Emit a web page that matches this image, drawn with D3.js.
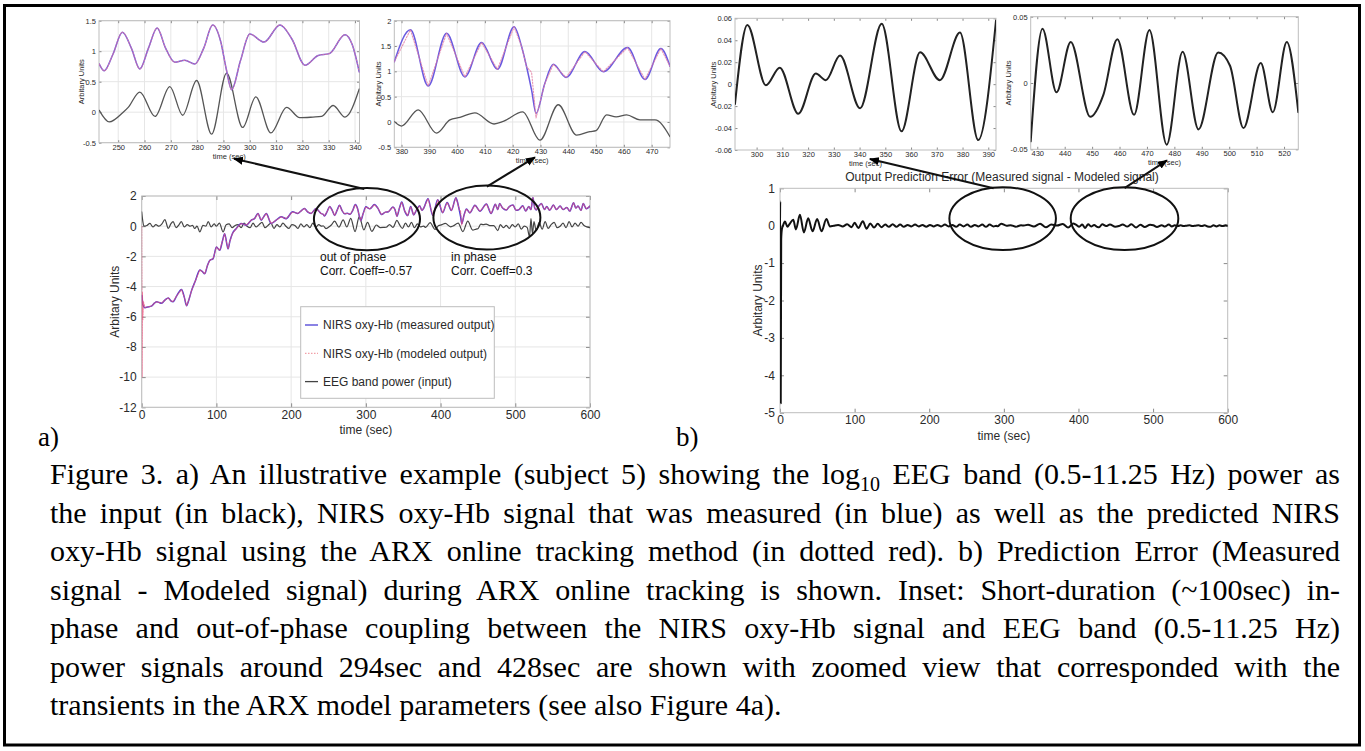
<!DOCTYPE html>
<html>
<head>
<meta charset="utf-8">
<script src="https://cdn.jsdelivr.net/npm/d3@7"></script>
<style>
  body { margin: 0; background: #fff; }
  .cap { font-family: "Liberation Serif", "Times New Roman", serif; fill: #000; }
</style>
</head>
<body>
<svg id="fig" width="1365" height="751"></svg>
<script>
// ---- data ----
// inset 1 (zoom around 294 sec)
const inset1Time = [242.8, 244.7, 248, 251.6, 255, 258.2, 261.5, 264.8, 268, 271.5, 275.3, 279.1, 282.5, 285.9, 289, 291, 293.1, 296.5, 300, 305.4, 311.5, 316, 321, 326, 330.2, 336.2, 339, 341.6];
const inset1Nirs = [0.79, 0.68, 0.95, 1.31, 1.05, 0.71, 1.05, 1.38, 1.05, 0.82, 0.85, 0.79, 1.05, 1.43, 1.15, 0.72, 0.37, 0.85, 1.28, 1.15, 1.43, 1.2, 0.77, 0.93, 0.96, 1.27, 1.1, 0.66];
const inset1EegTime = [242.8, 246.6, 251.9, 253.8, 258.2, 264, 269.6, 274.5, 279.8, 285.5, 291.2, 297.3, 302.3, 308, 314, 319, 324, 327.3, 331.7, 336.2, 341.6];
const inset1Eeg = [0.03, -0.16, 0.0, 0.08, 0.33, -0.07, 0.42, -0.05, 0.52, -0.36, 0.64, -0.25, 0.25, -0.34, 0.08, -0.09, -0.08, -0.07, 0.11, -0.08, 0.38];

// inset 2 (zoom around 428 sec)
const inset2Time = [377.4, 383.2, 389.6, 396.2, 402.8, 408.8, 414.5, 420.5, 423.2, 425, 426.8, 428.4, 431.5, 434.6, 439.2, 446, 452.6, 461.3, 467.6, 473.3, 476.6];
const inset2Nirs = [1.19, 1.82, 0.71, 1.75, 0.89, 1.57, 1.04, 1.88, 1.49, 1.09, 0.63, 0.17, 0.75, 1.14, 0.88, 1.39, 0.99, 1.47, 0.84, 1.45, 1.1];
const inset2Model = [1.19, 1.82, 0.71, 1.75, 0.89, 1.57, 1.04, 1.88, 1.49, 1.09, 0.98, 0.08, 0.75, 1.14, 0.88, 1.39, 0.99, 1.47, 0.84, 1.45, 1.1];
const inset2EegTime = [377.4, 380, 386, 392.6, 397.4, 401, 406.4, 413.3, 416.6, 423.6, 429.8, 436.4, 443, 447.8, 450, 453.8, 457.2, 461, 465.8, 471.2, 476.6];
const inset2Eeg = [0.01, -0.08, 0.24, -0.22, 0.04, 0.09, 0.18, -0.04, 0.01, 0.2, -0.36, 0.34, -0.26, -0.19, -0.17, 0.14, 0.1, 0.14, 0.04, 0.04, -0.29];

// inset 3 / 4 (prediction error)
const inset3Time = [291.6, 296.4, 303.6, 309, 316.2, 323, 326.9, 332.4, 340.2, 348.6, 356.3, 363.5, 371.2, 379, 386.1, 393];
const inset3Err = [-0.018, 0.054, -0.001, 0.015, -0.027, 0.0097, 0.0036, 0.026, -0.022, 0.055, -0.043, 0.029, 0.0036, 0.047, -0.051, 0.058];
const inset4Time = [427.6, 431.9, 437, 442.2, 449.3, 454.1, 459.2, 465.3, 470.9, 477.2, 483, 488.8, 496, 500.3, 505.2, 511.5, 515.9, 521, 525.2];
const inset4Err = [-0.044, 0.041, -0.007, 0.031, -0.0255, -0.009, 0.033, -0.024, 0.040, -0.0465, 0.0235, -0.035, 0.023, 0.013, -0.034, 0.015, -0.022, 0.031, -0.022];

// main a) pieces outside the zoomed windows
const earlyTime = [0.5, 1.5, 4.4, 8, 13, 17, 20, 23, 26.7, 31, 35.6, 39, 42, 47, 53.3, 57, 60, 63, 66.7, 72, 77.8, 81, 84.4, 88, 91, 95.6, 100, 104.4, 108, 111, 115.6, 118, 121.3, 126.7, 133, 140, 146.7, 151, 155.6, 160, 163, 166.7, 173.3, 180, 186.7, 193.3, 202, 208.9, 213, 217.8, 222, 226.7, 233.3, 237, 240];
const earlyNirs = [-4.6, -5.2, -5.4, -5.35, -5.3, -5.1, -5.0, -5.05, -5.1, -4.9, -4.75, -4.95, -5.0, -4.6, -4.2, -4.7, -5.27, -4.9, -4.27, -3.6, -2.9, -3.0, -3.15, -2.6, -2.27, -2.15, -1.38, -1.6, -1.0, -0.5, -1.5, -1.0, -0.5, -0.15, 0.18, 0.07, 0.4, 0.5, 0.84, 0.4, 0.6, 0.84, 0.18, 0.4, 0.62, 0.5, 0.95, 0.84, 1.0, 1.18, 0.95, 0.84, 1.18, 1.0, 0.84];
const modelStartTime = [0, 0.5, 1.0, 1.5, 2.2];
const modelStart = [0.0, -10, -4.4, -6.2, -5.0];
const midTime = [345, 348, 352, 356, 360, 364, 368, 372, 375];
const midNirs = [1.2, 1.6, 1.0, 0.7, 1.3, 0.75, 1.1, 1.35, 1.05];
const lateTime = [479, 483, 488, 492, 497, 501, 505, 510, 514, 518, 521, 523.6, 526, 528, 531, 535, 539, 542, 546, 551, 555, 560, 564, 569, 573, 578, 581, 584, 588, 591, 595, 600];
const lateNirs = [1.5, 1.2, 1.07, 1.3, 1.4, 1.05, 1.1, 1.35, 1.0, 1.3, 1.1, 1.9, 1.2, 1.07, 1.3, 1.5, 1.1, 1.3, 1.05, 1.4, 1.1, 1.33, 1.1, 1.24, 1.0, 1.55, 1.2, 1.33, 1.05, 1.5, 1.15, 1.33];

const eegEarlyTime = [0, 1, 3, 7, 11, 15, 19, 23, 27, 31, 35.6, 39, 42, 46, 50, 53, 57, 61, 65, 68, 71, 74, 77.8, 82, 86, 89, 93, 97, 100, 104, 109, 113, 117, 121, 125, 129, 133, 137, 141, 145, 149, 153, 157, 161, 165, 169, 173, 177, 181, 185, 189, 193, 197, 201, 205, 209, 213, 217, 221, 225, 229, 233, 237, 241];
const eegEarly = [0.95, 0.5, 0.0, 0.05, 0.18, -0.05, 0.1, 0.0, 0.15, 0.44, -0.15, 0.15, 0.3, -0.1, 0.1, 0.3, -0.05, 0.1, 0.0, 0.05, -0.15, 0.0, -0.38, 0.05, 0.0, 0.3, -0.05, 0.15, 0.0, 0.2, -0.38, 0.1, 0.15, -0.1, 0.05, 0.1, -0.1, 0.2, 0.0, -0.1, 0.2, -0.05, 0.1, 0.25, -0.1, 0.05, 0.2, -0.15, 0.1, -0.05, 0.2, 0.0, -0.15, 0.1, 0.05, -0.15, 0.15, -0.05, 0.1, -0.1, 0.2, -0.05, 0.1, 0.0];
const eegMidTime = [345, 349, 353, 357, 361, 365, 369, 373];
const eegMid = [0.1, -0.15, 0.2, -0.05, 0.25, -0.1, 0.15, -0.05];
const eegLateTime = [480, 484, 488, 492, 496, 500, 504, 508, 512, 516, 519, 521, 523, 525, 528, 532, 536, 540, 544, 548, 552, 556, 560, 564, 568, 572, 576, 580, 584, 588, 592, 596, 600];
const eegLate = [0.1, -0.1, 0.05, -0.15, 0.1, -0.05, 0.15, -0.2, 0.0, -0.1, -0.7, 0.5, -0.5, 0.3, -0.3, 0.25, -0.2, 0.3, -0.15, 0.1, 0.25, -0.1, 0.0, 0.2, -0.1, 0.3, -0.05, 0.2, 0.0, 0.25, 0.05, -0.05, -0.1];

// main b) pieces outside the zoomed windows
const errEarlyTime = [0, 0.3, 1, 1.6, 2.5, 4, 6.7, 10, 13, 17.8, 21.3, 26.7, 32, 37.8, 43.6, 49.8, 55.6, 62.2, 67, 72, 78, 84, 90, 96, 100, 105, 111, 116, 121, 126, 131, 136, 141, 146, 151, 156, 161, 166, 171, 176, 181, 186, 191, 196, 201, 206, 211, 216, 221, 226, 231, 236, 241, 246, 251, 256, 261, 266, 271, 276, 281, 286, 290];
const errEarly = [0.0, 0.65, -4.75, -0.37, -0.1, 0.0, 0.11, -0.03, 0.05, 0.16, -0.1, 0.29, -0.18, 0.2, -0.15, 0.18, -0.15, 0.18, -0.02, 0.0, 0.02, -0.02, 0.04, -0.04, 0.08, -0.06, 0.12, -0.08, 0.06, -0.05, 0.05, -0.04, 0.03, -0.03, 0.04, -0.03, 0.03, -0.03, 0.02, -0.02, 0.03, -0.02, 0.02, -0.03, 0.02, -0.02, 0.02, -0.02, 0.03, -0.02, 0.02, -0.03, 0.03, -0.02, 0.03, -0.03, 0.02, -0.02, 0.03, -0.03, 0.03, -0.02, 0.0];
const errMidTime = [397, 401, 405, 409, 413, 417, 421, 425];
const errMid = [0.02, -0.03, 0.03, -0.06, 0.04, -0.02, 0.02, -0.03];
const errLateTime = [529, 533, 537, 541, 545, 549, 553, 557, 561, 565, 569, 573, 577, 581, 585, 589, 593, 597, 600];
const errLate = [0.01, -0.01, 0.01, -0.01, 0.0, 0.01, -0.01, 0.0, 0.01, -0.01, 0.01, -0.02, -0.03, 0.01, -0.02, 0.01, -0.01, 0.01, 0.0];

// tick labels
const mainTimeTicks = [0, 100, 200, 300, 400, 500, 600];
const mainATicks = [-12, -10, -8, -6, -4, -2, 0, 2];
const mainBTicks = [-5, -4, -3, -2, -1, 0, 1];
const inset1TimeTicks = [250, 260, 270, 280, 290, 300, 310, 320, 330, 340];
const inset1Ticks = [-0.5, 0, 0.5, 1, 1.5];
const inset2TimeTicks = [380, 390, 400, 410, 420, 430, 440, 450, 460, 470];
const inset2Ticks = [-0.5, 0, 0.5, 1, 1.5, 2];
const inset3TimeTicks = [300, 310, 320, 330, 340, 350, 360, 370, 380, 390];
const inset3Ticks = [-0.06, -0.04, -0.02, 0, 0.02, 0.04, 0.06];
const inset4TimeTicks = [430, 440, 450, 460, 470, 480, 490, 500, 510, 520];
const inset4Ticks = [-0.05, 0, 0.05];

const legendLabels = ["NIRS oxy-Hb (measured output)", "NIRS oxy-Hb (modeled output)", "EEG band power (input)"];

const captionLines = [
  "Figure 3. a) An illustrative example (subject 5) showing the log{10} EEG band (0.5-11.25 Hz) power as",
  "the input (in black), NIRS oxy-Hb signal that was measured (in blue) as well as the predicted NIRS",
  "oxy-Hb signal using the ARX online tracking method (in dotted red). b) Prediction Error (Measured",
  "signal - Modeled signal) during ARX online tracking is shown. Inset: Short-duration (~100sec) in-",
  "phase and out-of-phase coupling between the NIRS oxy-Hb signal and EEG band (0.5-11.25 Hz)",
  "power signals around 294sec and 428sec are shown with zoomed view that corresponded with the",
  "transients in the ARX model parameters (see also Figure 4a)."
];

// colours
const BLUE = "#4b3fd6", RED = "#e8507a", EEG = "#444", ERR = "#111";
const SANS = '"Liberation Sans", Arial, Helvetica, sans-serif';

const svg = d3.select("#fig");
let clipCount = 0;

// draws a MATLAB-style axes box, returns scales and a clipped group
function makePanel(o) {
  const x = d3.scaleLinear().domain(o.xDomain).range([o.left, o.right]);
  const y = d3.scaleLinear().domain(o.yDomain).range([o.bottom, o.top]);
  const g = svg.append("g").attr("font-family", SANS);

  if (o.grid) {
    g.append("g").selectAll("line").data(o.xTicks).join("line")
      .attr("x1", d => x(d)).attr("x2", d => x(d))
      .attr("y1", o.top).attr("y2", o.bottom)
      .attr("stroke", "#e6e6e6");
    g.append("g").selectAll("line").data(o.yTicks).join("line")
      .attr("y1", d => y(d)).attr("y2", d => y(d))
      .attr("x1", o.left).attr("x2", o.right)
      .attr("stroke", "#e6e6e6");
  }

  const fmt = d => String(d);
  const style = sel => {
    sel.select(".domain").remove();
    sel.selectAll(".tick line").attr("stroke", "#8a8a8a");
    sel.selectAll(".tick text").attr("font-size", o.fs).attr("fill", "#2a2a2a").attr("font-family", SANS);
  };
  g.append("g").attr("transform", `translate(0,${o.bottom})`)
    .call(d3.axisBottom(x).tickValues(o.xTicks).tickSize(-o.tick).tickPadding(o.xPad).tickFormat(fmt)).call(style);
  g.append("g").attr("transform", `translate(${o.left},0)`)
    .call(d3.axisLeft(y).tickValues(o.yTicks).tickSize(-o.tick).tickPadding(o.yPad).tickFormat(fmt)).call(style);
  g.append("g").attr("transform", `translate(0,${o.top})`)
    .call(d3.axisTop(x).tickValues(o.xTicks).tickSize(-o.tick).tickFormat("")).call(style);
  g.append("g").attr("transform", `translate(${o.right},0)`)
    .call(d3.axisRight(y).tickValues(o.yTicks).tickSize(-o.tick).tickFormat("")).call(style);

  g.append("rect")
    .attr("x", o.left).attr("y", o.top)
    .attr("width", o.right - o.left).attr("height", o.bottom - o.top)
    .attr("fill", "none").attr("stroke", "#bdbdbd");

  g.append("text")
    .attr("transform", `translate(${o.ylabX},${(o.top + o.bottom) / 2}) rotate(-90)`)
    .attr("text-anchor", "middle").attr("dy", "0.35em")
    .attr("font-size", o.fs).attr("fill", "#2a2a2a")
    .text("Arbitary Units");
  g.append("text")
    .attr("x", (o.left + o.right) / 2).attr("y", o.xlabY)
    .attr("text-anchor", "middle")
    .attr("font-size", o.fs).attr("fill", "#2a2a2a")
    .text("time (sec)");

  const id = "clip" + (clipCount++);
  svg.append("clipPath").attr("id", id).append("rect")
    .attr("x", o.left).attr("y", o.top)
    .attr("width", o.right - o.left).attr("height", o.bottom - o.top);
  const plot = g.append("g").attr("clip-path", `url(#${id})`);
  return { x, y, g, plot };
}

function drawLine(p, time, vals, attrs, curve) {
  const line = d3.line().x(d => p.x(d[0])).y(d => p.y(d[1])).curve(curve || d3.curveMonotoneX);
  const path = p.plot.append("path").datum(d3.zip(time, vals))
    .attr("fill", "none").attr("d", line)
    .attr("stroke-linejoin", "round").attr("stroke-linecap", "round");
  Object.entries(attrs).forEach(([k, v]) => path.attr(k, v));
  return path;
}

// ---- insets ----
const in1 = makePanel({ left: 99, right: 359.5, top: 20.7, bottom: 142.7, xDomain: [242.7, 341.7], yDomain: [-0.5, 1.5],
  xTicks: inset1TimeTicks, yTicks: inset1Ticks, fs: 7.5, tick: 2.5, xPad: 1.5, yPad: 3, grid: true, ylabX: 81, xlabY: 158.5 });
drawLine(in1, inset1EegTime, inset1Eeg, { stroke: "#555", "stroke-width": 1.3 });
drawLine(in1, inset1Time, inset1Nirs, { stroke: "#6a5ae0", "stroke-width": 1.5 });
drawLine(in1, inset1Time, inset1Nirs, { stroke: "#e27aa0", "stroke-width": 1.1, "stroke-dasharray": "1.5,1.5", opacity: 0.8 });

const in2 = makePanel({ left: 394.3, right: 670, top: 20.7, bottom: 147.3, xDomain: [377.4, 476.6], yDomain: [-0.5, 2],
  xTicks: inset2TimeTicks, yTicks: inset2Ticks, fs: 7.5, tick: 2.5, xPad: 1.5, yPad: 3, grid: true, ylabX: 378, xlabY: 163 });
drawLine(in2, inset2EegTime, inset2Eeg, { stroke: "#555", "stroke-width": 1.3 });
drawLine(in2, inset2Time, inset2Nirs, { stroke: "#6a5ae0", "stroke-width": 1.5 });
drawLine(in2, inset2Time, inset2Model, { stroke: "#e27aa0", "stroke-width": 1.1, "stroke-dasharray": "1.5,1.5", opacity: 0.8 }, d3.curveLinear);

const in3 = makePanel({ left: 735, right: 996, top: 18.3, bottom: 150, xDomain: [291.6, 393], yDomain: [-0.06, 0.06],
  xTicks: inset3TimeTicks, yTicks: inset3Ticks, fs: 7.5, tick: 2.5, xPad: 1.5, yPad: 3, grid: false, ylabX: 713, xlabY: 165.5 });
drawLine(in3, inset3Time, inset3Err, { stroke: "#222", "stroke-width": 2 });

const in4 = makePanel({ left: 1030.7, right: 1298.3, top: 16.7, bottom: 149.3, xDomain: [427.6, 525.2], yDomain: [-0.05, 0.05],
  xTicks: inset4TimeTicks, yTicks: inset4Ticks, fs: 7.5, tick: 2.5, xPad: 1.5, yPad: 3, grid: false, ylabX: 1008, xlabY: 165 });
drawLine(in4, inset4Time, inset4Err, { stroke: "#222", "stroke-width": 2 });

// ---- main a ----
const pa = makePanel({ left: 141.7, right: 590, top: 196, bottom: 407.3, xDomain: [0, 600], yDomain: [-12, 2],
  xTicks: mainTimeTicks, yTicks: mainATicks, fs: 12, tick: 4, xPad: 3, yPad: 5, grid: true, ylabX: 115, xlabY: 434 });

const nirsTime = earlyTime.concat(inset1Time, midTime, inset2Time, lateTime);
const nirsVals = earlyNirs.concat(inset1Nirs, midNirs, inset2Nirs, lateNirs);
const modelTime = modelStartTime.concat(earlyTime.slice(2), inset1Time, midTime, inset2Time, lateTime);
const modelVals = modelStart.concat(earlyNirs.slice(2), inset1Nirs, midNirs, inset2Model, lateNirs);
const eegTime = eegEarlyTime.concat(inset1EegTime, eegMidTime, inset2EegTime, eegLateTime);
const eegVals = eegEarly.concat(inset1Eeg, eegMid, inset2Eeg, eegLate);

drawLine(pa, eegTime, eegVals, { stroke: EEG, "stroke-width": 1.2 });
drawLine(pa, nirsTime, nirsVals, { stroke: BLUE, "stroke-width": 1.5 });
drawLine(pa, modelTime, modelVals, { stroke: RED, "stroke-width": 1.1, "stroke-dasharray": "1.5,1.2", opacity: 0.75 }, d3.curveLinear);

// legend
const lg = pa.g.append("g");
lg.append("rect").attr("x", 300.7).attr("y", 306.7).attr("width", 193.6).attr("height", 91.6)
  .attr("fill", "#fff").attr("stroke", "#bdbdbd");
const legendStyles = [
  { stroke: BLUE, dash: null },
  { stroke: "#f2a0a8", dash: "1.5,1.5" },
  { stroke: EEG, dash: null }
];
legendLabels.forEach((lab, i) => {
  const ly = 325 + i * 28.3;
  lg.append("line").attr("x1", 305).attr("x2", 318).attr("y1", ly).attr("y2", ly)
    .attr("stroke", legendStyles[i].stroke).attr("stroke-width", 1.3)
    .attr("stroke-dasharray", legendStyles[i].dash);
  lg.append("text").attr("x", 323).attr("y", ly).attr("dy", "0.35em")
    .attr("font-size", 12).attr("fill", "#2a2a2a").text(lab);
});

// ---- main b ----
const pb = makePanel({ left: 780, right: 1227.7, top: 188.3, bottom: 412.7, xDomain: [0, 600], yDomain: [-5, 1],
  xTicks: mainTimeTicks, yTicks: mainBTicks, fs: 12, tick: 4, xPad: 3, yPad: 5, grid: false, ylabX: 758, xlabY: 439.5 });
const errTime = errEarlyTime.concat(inset3Time, errMidTime, inset4Time, errLateTime);
const errVals = errEarly.concat(inset3Err, errMid, inset4Err, errLate);
drawLine(pb, errTime, errVals, { stroke: ERR, "stroke-width": 2 });

pb.g.append("text").attr("x", 1002).attr("y", 181).attr("text-anchor", "middle")
  .attr("font-size", 12).attr("fill", "#2a2a2a")
  .text("Output Prediction Error (Measured signal - Modeled signal)");

// ---- annotations: ellipses around the zoomed windows, arrows to insets ----
const defs = svg.append("defs");
defs.append("marker").attr("id", "head").attr("viewBox", "0 0 10 10")
  .attr("refX", 9).attr("refY", 5).attr("markerWidth", 5).attr("markerHeight", 5)
  .attr("orient", "auto").append("path").attr("d", "M0,1 L10,5 L0,9 z").attr("fill", "#000");

const ellipsesA = [{ t: 301.5, v: 0.47, dt: 71, dv: 2.06 }, { t: 462, v: 0.57, dt: 71.6, dv: 2.12 }];
const ellipsesB = [{ t: 298.4, v: 0.19, dt: 71.4, dv: 0.84 }, { t: 461.7, v: 0.19, dt: 72.1, dv: 0.84 }];

function drawEllipses(p, list) {
  p.g.append("g").selectAll("ellipse").data(list).join("ellipse")
    .attr("cx", d => p.x(d.t)).attr("cy", d => p.y(d.v))
    .attr("rx", d => p.x(d.t + d.dt) - p.x(d.t))
    .attr("ry", d => p.y(d.v) - p.y(d.v + d.dv))
    .attr("fill", "none").attr("stroke", "#111").attr("stroke-width", 2);
}
drawEllipses(pa, ellipsesA);
drawEllipses(pb, ellipsesB);

// arrows: from the top of each ellipse to a time on the inset x-axis
const arrows = [
  { from: [pa, ellipsesA[0], -0.05], to: [in1, 294, 16] },
  { from: [pa, ellipsesA[1], 0.0], to: [in2, 428, 10] },
  { from: [pb, ellipsesB[0], -0.17], to: [in3, 344, 9] },
  { from: [pb, ellipsesB[1], 0.0], to: [in4, 477.3, 11] }
];
arrows.forEach(a => {
  const [p, e, off] = a.from;
  const [ip, t, dy] = a.to;
  const x1 = p.x(e.t + off * e.dt), y1 = p.y(e.v + e.dv) + 1;
  const x2 = ip.x(t), y2 = ip.y.range()[0] + dy;
  svg.append("line").attr("x1", x1).attr("y1", y1).attr("x2", x2).attr("y2", y2)
    .attr("stroke", "#111").attr("stroke-width", 2).attr("marker-end", "url(#head)");
});

// phase notes
const notes = [
  { x: 320, lines: ["out of phase", "Corr. Coeff=-0.57"] },
  { x: 451, lines: ["in phase", "Corr. Coeff=0.3"] }
];
notes.forEach(n => {
  n.lines.forEach((s, i) => {
    svg.append("text").attr("x", n.x).attr("y", 261 + i * 13.5)
      .attr("font-family", SANS).attr("font-size", 12).attr("fill", "#111").text(s);
  });
});

// panel letters
svg.append("text").attr("class", "cap").attr("x", 38).attr("y", 446).attr("font-size", 27).text("a)");
svg.append("text").attr("class", "cap").attr("x", 676).attr("y", 446).attr("font-size", 27).text("b)");

// ---- caption, justified ----
const capLeft = 50, capRight = 1340, capTop = 484, capStep = 38.5;
captionLines.forEach((ln, i) => {
  const t = svg.append("text").attr("class", "cap")
    .attr("x", capLeft).attr("y", capTop + i * capStep).attr("font-size", 30);
  const m = ln.match(/^(.*)\{(.*)\}(.*)$/);
  if (m) {
    t.append("tspan").text(m[1]);
    t.append("tspan").attr("font-size", 20).attr("dy", 7).text(m[2]);
    t.append("tspan").attr("dy", -7).text(m[3]);
  } else {
    t.text(ln);
  }
  if (i < captionLines.length - 1) {
    const w = t.node().getComputedTextLength();
    const spaces = (ln.match(/ /g) || []).length;
    t.attr("word-spacing", (capRight - capLeft - w) / spaces);
  }
});

// outer frame
svg.append("rect").attr("x", 4.5).attr("y", 5.5).attr("width", 1355).attr("height", 739.5)
  .attr("fill", "none").attr("stroke", "#000").attr("stroke-width", 3);
</script>
</body>
</html>
